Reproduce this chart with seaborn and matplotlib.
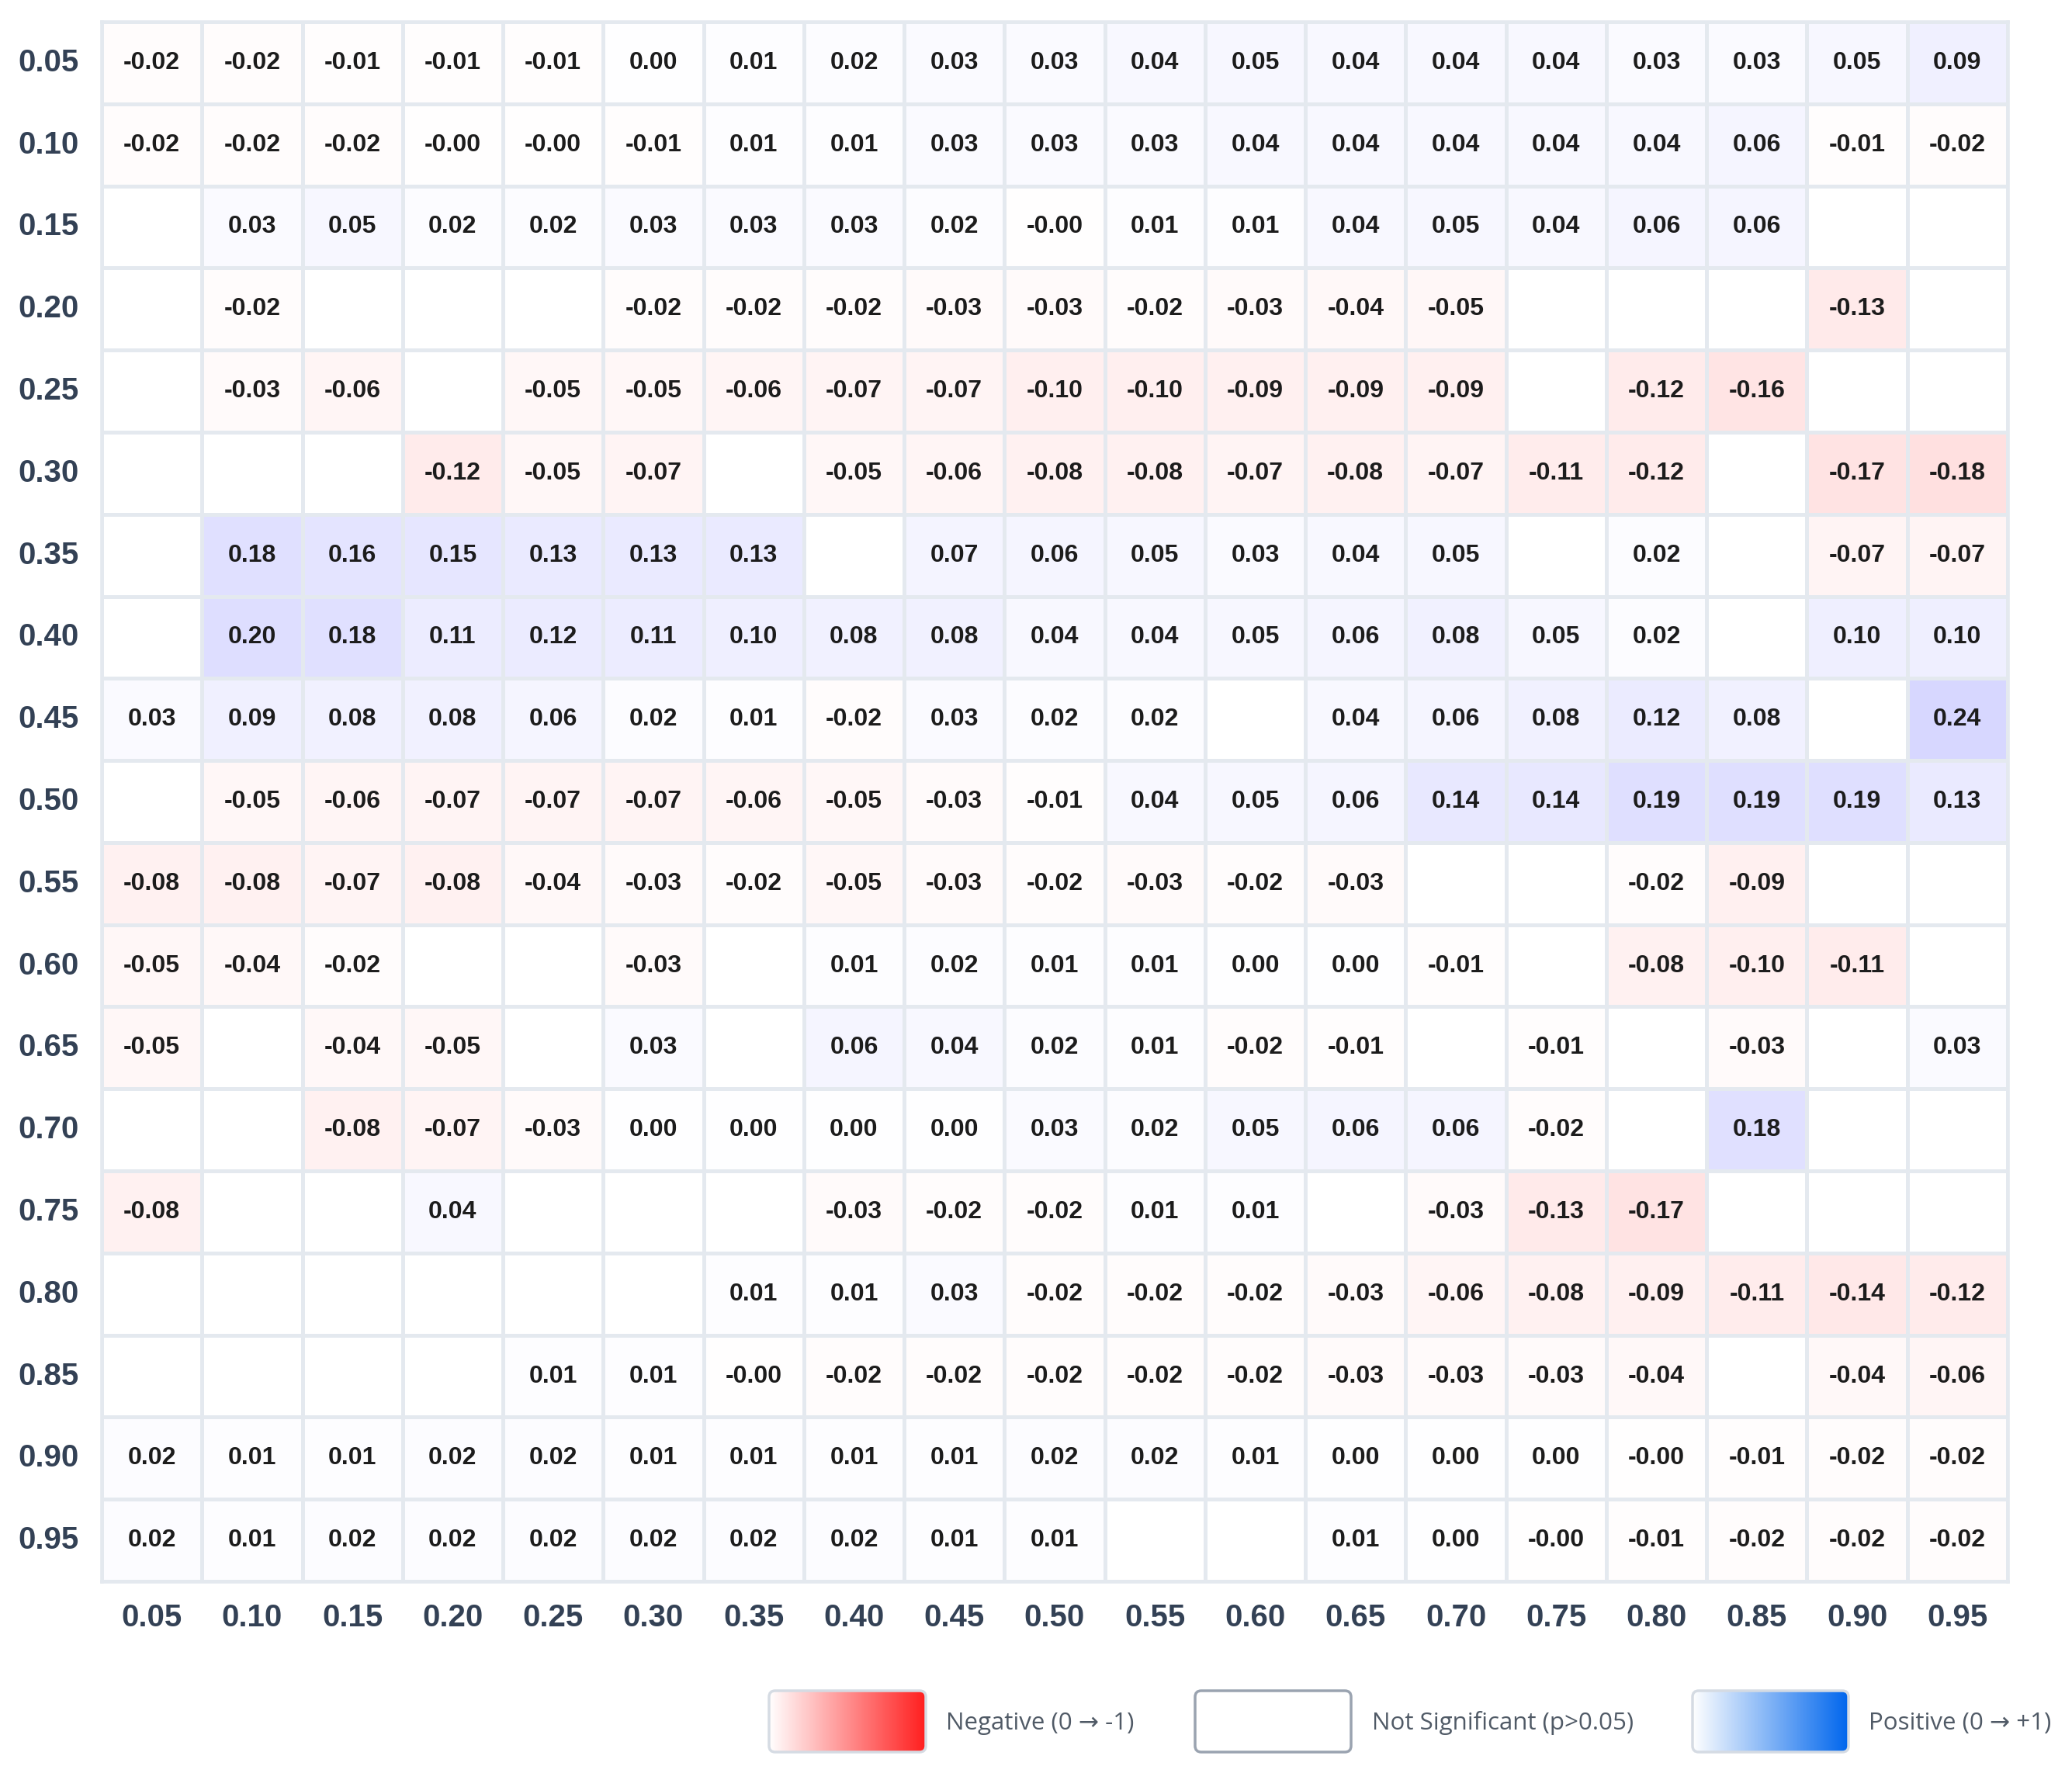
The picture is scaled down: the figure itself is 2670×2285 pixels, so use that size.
import numpy as np
import pandas as pd
import matplotlib
matplotlib.use("Agg")
import matplotlib.pyplot as plt
from matplotlib.colors import LinearSegmentedColormap, ListedColormap
from matplotlib.patches import FancyBboxPatch
from matplotlib import font_manager
import seaborn as sns

N = np.nan
# axis labels
x_labels = ["0.05", "0.10", "0.15", "0.20", "0.25", "0.30", "0.35", "0.40", "0.45", "0.50",
            "0.55", "0.60", "0.65", "0.70", "0.75", "0.80", "0.85", "0.90", "0.95"]
y_labels = list(x_labels)

# correlation values per row (blank = not significant)
r005 = [-0.02, -0.02, -0.01, -0.01, -0.01, 0.00, 0.01, 0.02, 0.03, 0.03, 0.04, 0.05, 0.04, 0.04, 0.04, 0.03, 0.03, 0.05, 0.09]
r010 = [-0.02, -0.02, -0.02, -0.001, -0.001, -0.01, 0.01, 0.01, 0.03, 0.03, 0.03, 0.04, 0.04, 0.04, 0.04, 0.04, 0.06, -0.01, -0.02]
r015 = [N, 0.03, 0.05, 0.02, 0.02, 0.03, 0.03, 0.03, 0.02, -0.001, 0.01, 0.01, 0.04, 0.05, 0.04, 0.06, 0.06, N, N]
r020 = [N, -0.02, N, N, N, -0.02, -0.02, -0.02, -0.03, -0.03, -0.02, -0.03, -0.04, -0.05, N, N, N, -0.13, N]
r025 = [N, -0.03, -0.06, N, -0.05, -0.05, -0.06, -0.07, -0.07, -0.10, -0.10, -0.09, -0.09, -0.09, N, -0.12, -0.16, N, N]
r030 = [N, N, N, -0.12, -0.05, -0.07, N, -0.05, -0.06, -0.08, -0.08, -0.07, -0.08, -0.07, -0.11, -0.12, N, -0.17, -0.18]
r035 = [N, 0.18, 0.16, 0.15, 0.13, 0.13, 0.13, N, 0.07, 0.06, 0.05, 0.03, 0.04, 0.05, N, 0.02, N, -0.07, -0.07]
r040 = [N, 0.20, 0.18, 0.11, 0.12, 0.11, 0.10, 0.08, 0.08, 0.04, 0.04, 0.05, 0.06, 0.08, 0.05, 0.02, N, 0.10, 0.10]
r045 = [0.03, 0.09, 0.08, 0.08, 0.06, 0.02, 0.01, -0.02, 0.03, 0.02, 0.02, N, 0.04, 0.06, 0.08, 0.12, 0.08, N, 0.24]
r050 = [N, -0.05, -0.06, -0.07, -0.07, -0.07, -0.06, -0.05, -0.03, -0.01, 0.04, 0.05, 0.06, 0.14, 0.14, 0.19, 0.19, 0.19, 0.13]
r055 = [-0.08, -0.08, -0.07, -0.08, -0.04, -0.03, -0.02, -0.05, -0.03, -0.02, -0.03, -0.02, -0.03, N, N, -0.02, -0.09, N, N]
r060 = [-0.05, -0.04, -0.02, N, N, -0.03, N, 0.01, 0.02, 0.01, 0.01, 0.00, 0.00, -0.01, N, -0.08, -0.10, -0.11, N]
r065 = [-0.05, N, -0.04, -0.05, N, 0.03, N, 0.06, 0.04, 0.02, 0.01, -0.02, -0.01, N, -0.01, N, -0.03, N, 0.03]
r070 = [N, N, -0.08, -0.07, -0.03, 0.00, 0.00, 0.00, 0.00, 0.03, 0.02, 0.05, 0.06, 0.06, -0.02, N, 0.18, N, N]
r075 = [-0.08, N, N, 0.04, N, N, N, -0.03, -0.02, -0.02, 0.01, 0.01, N, -0.03, -0.13, -0.17, N, N, N]
r080 = [N, N, N, N, N, N, 0.01, 0.01, 0.03, -0.02, -0.02, -0.02, -0.03, -0.06, -0.08, -0.09, -0.11, -0.14, -0.12]
r085 = [N, N, N, N, 0.01, 0.01, -0.001, -0.02, -0.02, -0.02, -0.02, -0.02, -0.03, -0.03, -0.03, -0.04, N, -0.04, -0.06]
r090 = [0.02, 0.01, 0.01, 0.02, 0.02, 0.01, 0.01, 0.01, 0.01, 0.02, 0.02, 0.01, 0.00, 0.00, 0.00, -0.001, -0.01, -0.02, -0.02]
r095 = [0.02, 0.01, 0.02, 0.02, 0.02, 0.02, 0.02, 0.02, 0.01, 0.01, N, N, 0.01, 0.00, -0.001, -0.01, -0.02, -0.02, -0.02]

rows = [r005, r010, r015, r020, r025, r030, r035, r040, r045, r050,
        r055, r060, r065, r070, r075, r080, r085, r090, r095]

legend_labels = ["Negative (0 \u2192 -1)", "Not Significant (p>0.05)", "Positive (0 \u2192 +1)"]

df = pd.DataFrame(rows, index=y_labels, columns=x_labels)
annot = df.map(lambda v: "" if pd.isna(v) else f"{v:.2f}")

W, H = 2670, 2285
DPI = 100
sns.set_theme(style="white")
plt.rcParams["font.family"] = ["Liberation Sans", "DejaVu Sans"]

fig = plt.figure(figsize=(W / DPI, H / DPI), dpi=DPI)
fig.patch.set_facecolor("white")

left, right, top, bottom = 131, 2587, 28, 2038
ax = fig.add_axes([left / W, 1 - bottom / H, (right - left) / W, (bottom - top) / H])

grid_color = "#e4e9ef"
lw = 3.3
# background layer so blank (not significant) cells keep grid lines
sns.heatmap(np.zeros(df.shape), cmap=ListedColormap(["white"]), cbar=False,
            linewidths=lw, linecolor=grid_color, ax=ax)

cmap = LinearSegmentedColormap.from_list(
    "rw_b", [(0.0, (1.0, 0.35, 0.35)), (0.5, (1.0, 1.0, 1.0)), (1.0, (0.35, 0.35, 1.0))])
sns.heatmap(df, cmap=cmap, vmin=-1, vmax=1, center=0, annot=annot.values, fmt="",
            annot_kws={"fontsize": 23, "fontweight": "bold", "color": "#1c1c1c"},
            cbar=False, linewidths=lw, linecolor=grid_color, ax=ax)

ax.set_xlabel("")
ax.set_ylabel("")
ax.tick_params(axis="both", length=0)
ax.tick_params(axis="x", pad=20)
ax.tick_params(axis="y", pad=21)
ax.set_xticklabels(x_labels, rotation=0, fontsize=29, fontweight="bold", color="#334155")
ax.set_yticklabels(y_labels, rotation=0, fontsize=29, fontweight="bold", color="#334155")
for s in ax.spines.values():
    s.set_visible(True)
    s.set_color(grid_color)
    s.set_linewidth(lw)

# legend drawn in pixel coordinates
lax = fig.add_axes([0, 0, 1, 1], zorder=5)
lax.set_xlim(0, W)
lax.set_ylim(H, 0)
lax.axis("off")

avail = {f.name for f in font_manager.fontManager.ttflist}
if "Liberation Sans Narrow" in avail:
    leg_family = ["Liberation Sans Narrow", "DejaVu Sans"]
    leg_size = 27
else:
    leg_family = ["Open Sans", "DejaVu Sans"]
    leg_size = 22.5

box_y0, box_y1 = 2179, 2258
boxes = [(991, 1193, (1.0, 0.12, 0.12), "#d5dbe3"),
         (1540, 1741, None, "#9aa3b0"),
         (2181, 2382, (0.0, 0.40, 0.93), "#d5dbe3")]
text_x = [1219, 1768, 2408]
for (x0, x1, col, ec), tx, lab in zip(boxes, text_x, legend_labels):
    patch = FancyBboxPatch((x0, box_y0), x1 - x0, box_y1 - box_y0,
                           boxstyle="round,pad=0,rounding_size=8",
                           facecolor="white", edgecolor=ec, linewidth=2.5, zorder=3)
    lax.add_patch(patch)
    if col is not None:
        grad = np.linspace(0, 1, 256)
        img = np.ones((1, 256, 3))
        for k in range(3):
            img[0, :, k] = 1 - grad * (1 - col[k])
        im = lax.imshow(img, extent=(x0, x1, box_y1, box_y0), aspect="auto", zorder=2,
                        interpolation="bilinear")
        clip = FancyBboxPatch((x0, box_y0), x1 - x0, box_y1 - box_y0,
                              boxstyle="round,pad=0,rounding_size=8",
                              facecolor="none", edgecolor="none", transform=lax.transData)
        im.set_clip_path(clip)
        patch.set_facecolor("none")
    lax.text(tx, (box_y0 + box_y1) / 2 + 2, lab, ha="left", va="center",
             fontsize=leg_size, color="#505a66", family=leg_family)
lax.set_xlim(0, W)
lax.set_ylim(H, 0)

fig.savefig("out.png", dpi=DPI, facecolor="white")
